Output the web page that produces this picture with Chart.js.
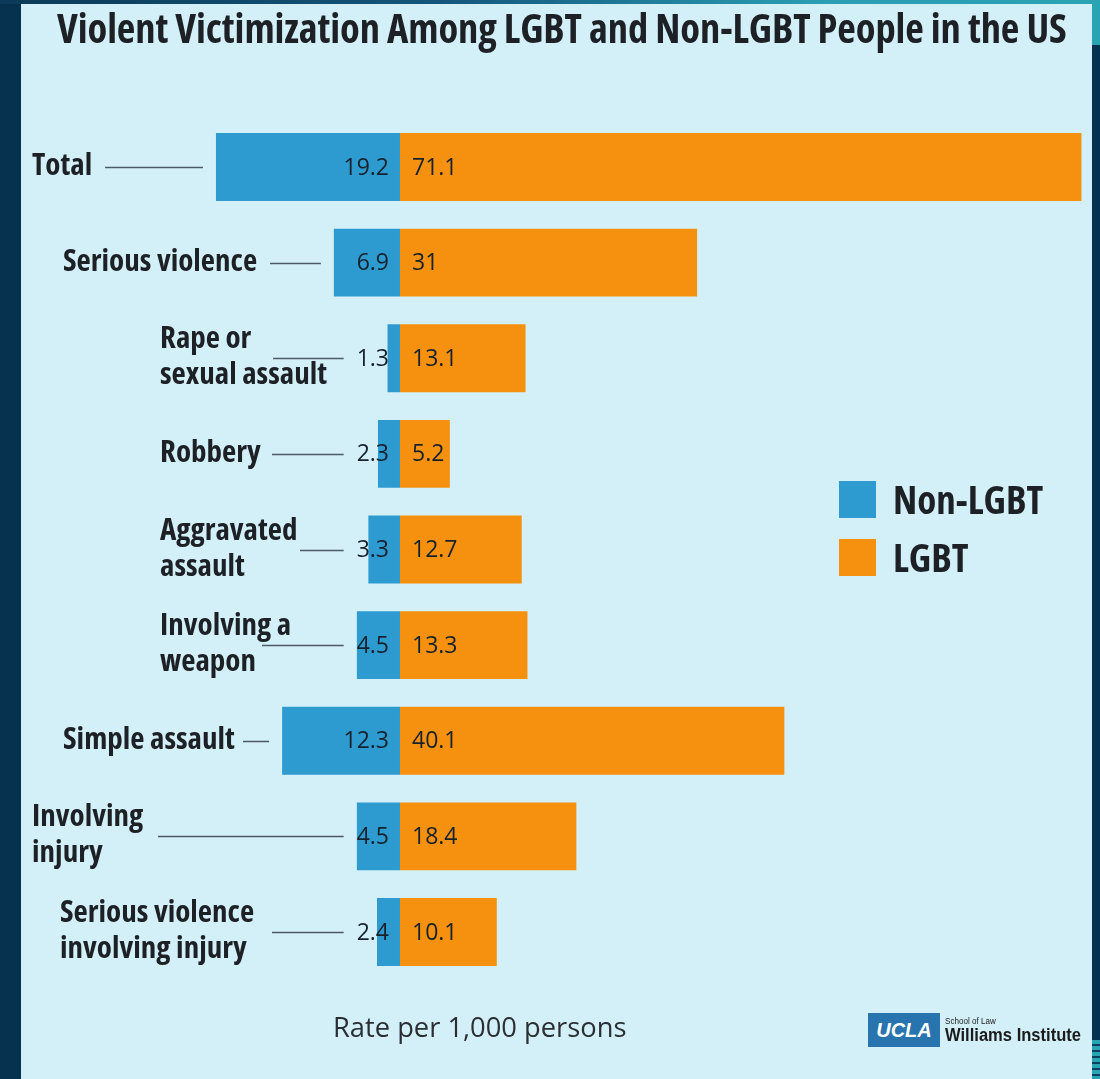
<!DOCTYPE html>
<html>
<head>
<meta charset="utf-8">
<script src="https://cdn.jsdelivr.net/npm/chart.js@4"></script>
<style>
  html, body { margin:0; padding:0; width:1100px; height:1079px; overflow:hidden; background:#07324f; }
  #topstrip { position:absolute; left:0; top:0; width:1100px; height:4px; background:linear-gradient(90deg,#0b3a58 0%,#14567a 40%,#2a9fb2 75%,#2aa3b3 100%); }
  #rightteal { position:absolute; left:1092px; top:0; width:8px; height:45px; background:#2aa3b3; }
  #brteal { position:absolute; left:1092px; top:1040px; width:8px; height:39px; background:repeating-linear-gradient(180deg,#2aa3b3 0 4px,#0b4060 4px 6px); }
  #panel { position:absolute; left:21px; top:4px; width:1071px; height:1075px; background:#d3f0f9; }
  #chart { position:absolute; left:0; top:0; }
  .cond { font-family:'Open Sans','DejaVu Sans Condensed',sans-serif; font-weight:700; font-stretch:75%; color:#1d2126; }
  #title { position:absolute; left:57px; top:0px; font-size:40.5px; white-space:nowrap; letter-spacing:-0.1px; }
  .cat { position:absolute; font-size:31px; line-height:36px; white-space:nowrap; }
  .legsw { position:absolute; left:839px; width:37px; height:37px; }
  .legtx { position:absolute; left:893px; font-size:39px; line-height:40px; white-space:nowrap; }
  #foot { position:absolute; left:333px; top:1008px; font-family:'Open Sans',sans-serif; font-size:27.3px; color:#2b2f33; white-space:nowrap; }
  #ucla { position:absolute; left:868px; top:1013px; width:72px; height:34px; background:#2774ae; color:#fff; font-family:'Liberation Sans',Arial,sans-serif; font-weight:700; font-style:italic; font-size:20px; line-height:34px; text-align:center; }
  #sol { position:absolute; left:945px; top:1015px; font-family:'Liberation Sans',sans-serif; font-size:9.5px; color:#222; white-space:nowrap; transform:scaleX(0.85); transform-origin:0 0; }
  #wi { position:absolute; left:945px; top:1025px; font-family:'Liberation Sans',sans-serif; font-weight:700; font-size:18px; color:#1b1b1b; white-space:nowrap; transform:scaleX(0.92); transform-origin:0 0; }
</style>
</head>
<body>
<div id="topstrip"></div>
<div id="rightteal"></div>
<div id="brteal"></div>
<div id="panel"></div>
<canvas id="chart" width="1100" height="1079"></canvas>
<div id="title" class="cond">Violent Victimization Among LGBT and Non-LGBT People in the US</div>
<div id="labels"></div>
<div class="legsw" style="top:481px;background:#2e9bd0"></div>
<div class="legtx cond" style="top:479px">Non-LGBT</div>
<div class="legsw" style="top:539px;background:#f5910f"></div>
<div class="legtx cond" style="top:537px">LGBT</div>
<div id="foot">Rate per 1,000 persons</div>
<div id="ucla">UCLA</div>
<div id="sol">School of Law</div>
<div id="wi">Williams Institute</div>
<script>
// ---- data ----
const categories = [
  ["Total"],
  ["Serious violence"],
  ["Rape or", "sexual assault"],
  ["Robbery"],
  ["Aggravated", "assault"],
  ["Involving a", "weapon"],
  ["Simple assault"],
  ["Involving", "injury"],
  ["Serious violence", "involving injury"]
];
const nonLGBT = [19.2, 6.9, 1.3, 2.3, 3.3, 4.5, 12.3, 4.5, 2.4];
const lgbt    = [71.1, 31, 13.1, 5.2, 12.7, 13.3, 40.1, 18.4, 10.1];
const seriesNames = ["Non-LGBT", "LGBT"];

// ---- layout / style (not data) ----
const labelIndentX = [32, 63, 160, 160, 160, 160, 63, 32, 60];
const leaderStartX = [105, 270, 273, 272, 300, 262, 243, 158, 272];
const colors = ["#2e9bd0", "#f5910f"];

const labelPlugin = {
  id: 'custom',
  afterDatasetsDraw(chart) {
    const ctx = chart.ctx;
    const xs = chart.scales.x, ys = chart.scales.y;
    const zero = xs.getPixelForValue(0);
    ctx.save();
    ctx.font = "23px 'Open Sans'";
    ctx.fillStyle = "#17212b";
    ctx.textBaseline = "middle";
    const html = [];
    categories.forEach((c, i) => {
      const y = ys.getPixelForValue(i);
      const nTxt = String(nonLGBT[i]);
      const lTxt = String(lgbt[i]);
      ctx.textAlign = "right";
      ctx.fillText(nTxt, zero - 11, y + 1);
      ctx.textAlign = "left";
      ctx.fillText(lTxt, zero + 12, y + 1);
      const tw = ctx.measureText(nTxt).width;
      const barLeft = xs.getPixelForValue(-nonLGBT[i]);
      const end = Math.min(barLeft, zero - 11 - tw) - 13;
      ctx.strokeStyle = "#4b5a66";
      ctx.lineWidth = 1.5;
      ctx.beginPath();
      ctx.moveTo(leaderStartX[i], Math.round(y) + 0.5);
      ctx.lineTo(end, Math.round(y) + 0.5);
      ctx.stroke();
      const h = c.length * 36;
      html.push('<div class="cat cond" style="left:' + labelIndentX[i] + 'px;top:' + (y - h / 2 - 4) + 'px">' + c.join('<br>') + '</div>');
    });
    ctx.restore();
    document.getElementById('labels').innerHTML = html.join('');
  }
};

new Chart(document.getElementById('chart'), {
  type: 'bar',
  data: {
    labels: categories.map(c => c.join(' ')),
    datasets: [
      { label: seriesNames[0], data: nonLGBT.map(v => -v), backgroundColor: colors[0], borderWidth: 0 },
      { label: seriesNames[1], data: lgbt, backgroundColor: colors[1], borderWidth: 0 }
    ]
  },
  options: {
    indexAxis: 'y',
    responsive: false,
    animation: false,
    devicePixelRatio: 1,
    barPercentage: 0.71,
    categoryPercentage: 1,
    layout: { padding: { left: 208.3, right: 9.9, top: 119.2, bottom: 99.2 } },
    scales: {
      x: { stacked: true, min: -20, max: 72, display: false },
      y: { stacked: true, display: false }
    },
    plugins: { legend: { display: false }, tooltip: { enabled: false } }
  },
  plugins: [labelPlugin]
});
</script>
</body>
</html>
